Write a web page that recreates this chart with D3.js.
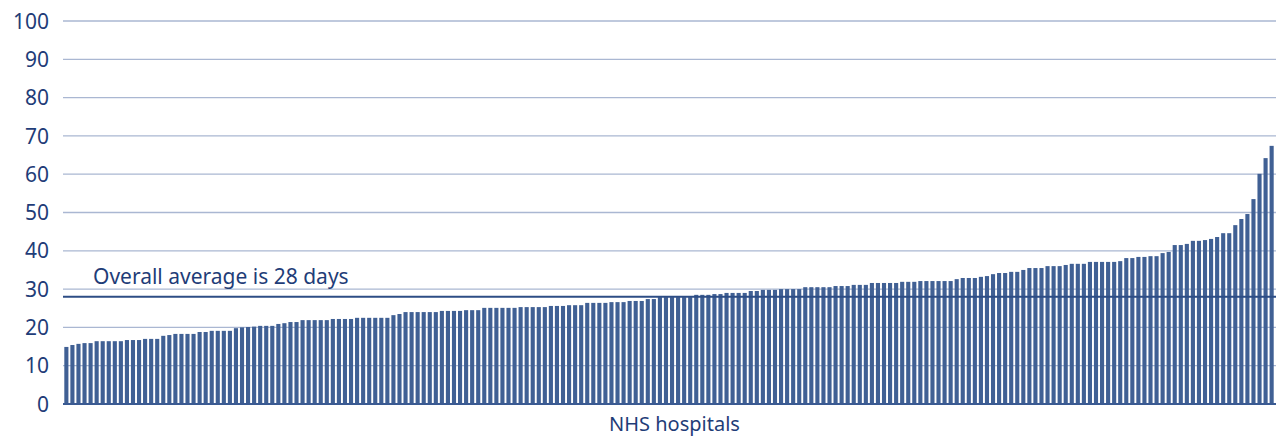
<!DOCTYPE html>
<html>
<head>
<meta charset="utf-8">
<script src="https://cdn.jsdelivr.net/npm/d3@7"></script>
<style>
  html, body { margin: 0; padding: 0; background: #ffffff; }
  svg { display: block; }
</style>
</head>
<body>
<svg id="chart" width="1276" height="437"></svg>
<script>
// ---- data ----
const hospitalValues = [
  14.9,15.4,15.7,15.9,15.9,16.4,16.4,16.4,16.4,16.4,16.7,16.7,16.7,17.0,17.0,17.0,17.8,18.0,18.3,18.3,
  18.3,18.3,18.8,18.8,19.1,19.1,19.1,19.1,19.8,20.0,20.1,20.2,
  20.4,20.4,20.4,20.9,21.1,21.4,21.4,21.9,21.9,21.9,21.9,21.9,22.2,22.2,22.2,22.2,22.5,22.5,22.5,22.5,22.5,22.5,
  23.2,23.5,24.0,24.0,24.0,24.0,24.0,24.0,24.3,24.3,24.3,24.3,
  24.5,24.5,24.5,25.1,25.1,25.1,25.1,25.1,25.1,25.3,25.3,25.3,25.3,25.3,25.6,25.6,25.6,25.8,25.8,25.8,
  26.4,26.4,26.4,26.4,26.6,26.6,26.6,26.9,26.9,26.9,27.4,27.4,27.9,27.9,27.9,
  27.9,27.9,27.9,28.5,28.5,28.5,28.7,28.7,29.0,29.0,29.0,29.0,29.5,29.5,29.8,29.8,29.8,30.0,30.0,30.0,30.0,
  30.5,30.5,30.5,30.5,30.5,30.8,30.8,30.8,31.1,31.1,31.1,31.6,
  31.6,31.6,31.6,31.6,31.9,31.9,31.9,32.1,32.1,32.1,32.1,32.1,32.1,32.6,32.9,32.9,32.9,33.2,33.4,33.9,
  34.2,34.2,34.5,34.5,35.0,35.5,35.5,35.5,36.0,36.0,36.0,36.3,36.6,36.6,
  36.6,37.1,37.1,37.1,37.1,37.1,37.3,38.1,38.1,38.4,38.4,38.6,38.6,39.4,39.7,41.5,41.5,41.8,42.6,42.6,
  42.8,43.1,43.6,44.6,44.6,46.7,48.3,49.6,53.5,60.1,64.2,67.4
];
const yTicks = [0, 10, 20, 30, 40, 50, 60, 70, 80, 90, 100];
const averageValue = 28;
const averageLabel = ["Overall average is 28 days"];
const xAxisTitle = ["NHS hospitals"];

// ---- layout ----
const svg = d3.select("#chart");
const plotLeft = 63, plotRight = 1276, plotTop = 21, plotBottom = 404;
const textColor = "#1f3d78";

const x = d3.scaleBand()
  .domain(hospitalValues.map((d, i) => i))
  .range([plotLeft + 1, plotRight - 2])
  .paddingInner(0.32)
  .paddingOuter(0.05);

const y = d3.scaleLinear().domain([0, 100]).range([plotBottom, plotTop]);

// gridlines
svg.append("g")
  .selectAll("line")
  .data(yTicks.filter(t => t > 0))
  .join("line")
  .attr("x1", plotLeft).attr("x2", plotRight)
  .attr("y1", d => y(d)).attr("y2", d => y(d))
  .attr("stroke", "#aab7d2")
  .attr("stroke-width", 1.3);

// y axis labels
const yAxis = d3.axisLeft(y).tickValues(yTicks).tickSize(0).tickPadding(0);
const yg = svg.append("g").attr("transform", `translate(${plotLeft - 14},0)`).call(yAxis);
yg.select(".domain").remove();
yg.selectAll("text")
  .attr("fill", textColor)
  .style("font-family", "'Noto Sans', sans-serif")
  .style("font-size", "21px")
  .attr("dy", "0.34em");

// bars
svg.append("g")
  .selectAll("rect")
  .data(hospitalValues)
  .join("rect")
  .attr("x", (d, i) => x(i))
  .attr("width", x.bandwidth())
  .attr("y", d => y(d))
  .attr("height", d => y(0) - y(d))
  .attr("fill", "#406094");

// baseline
svg.append("line")
  .attr("x1", plotLeft).attr("x2", plotRight)
  .attr("y1", y(0)).attr("y2", y(0))
  .attr("stroke", "#3a5a92")
  .attr("stroke-width", 2);

// average line
svg.append("line")
  .attr("x1", plotLeft).attr("x2", plotRight)
  .attr("y1", y(averageValue)).attr("y2", y(averageValue))
  .attr("stroke", "#2d4d85")
  .attr("stroke-width", 2);

svg.append("text")
  .data(averageLabel)
  .attr("x", 93)
  .attr("y", y(averageValue) - 13)
  .attr("fill", textColor)
  .style("font-family", "'Noto Sans', sans-serif")
  .style("font-size", "21px")
  .text(d => d);

svg.append("text")
  .data(xAxisTitle)
  .attr("x", (plotLeft + plotRight) / 2 + 5)
  .attr("y", 431)
  .attr("text-anchor", "middle")
  .attr("fill", textColor)
  .style("font-family", "'Noto Sans', sans-serif")
  .style("font-size", "20px")
  .text(d => d);
</script>
</body>
</html>
